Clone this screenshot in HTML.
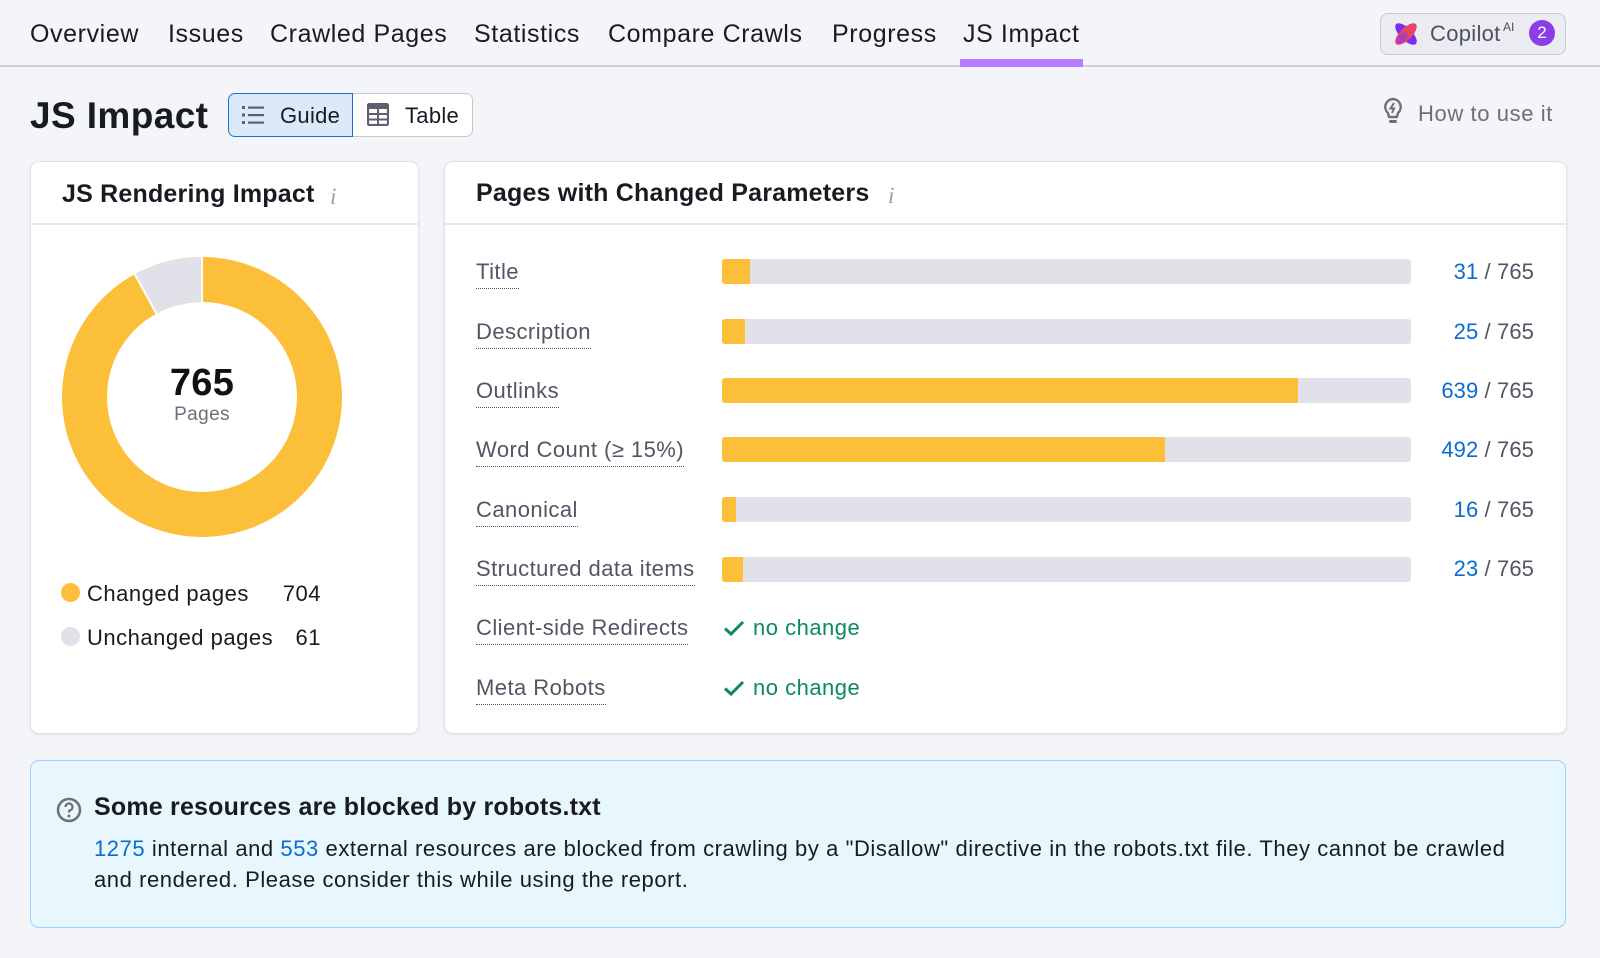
<!DOCTYPE html>
<html><head><meta charset="utf-8">
<style>
*{margin:0;padding:0;box-sizing:border-box}
html,body{width:1600px;height:958px;background:#f4f5f9;overflow:hidden;font-family:"Liberation Sans",Arial,sans-serif;color:#191b23}
.a{position:absolute;white-space:nowrap}
.nav{font-size:25px;line-height:25px;top:22px;letter-spacing:0.6px;color:#191b23}
.card{position:absolute;background:#fff;border:1px solid #e2e3ea;border-radius:9px;box-shadow:0 1px 3px rgba(30,30,60,0.08)}
.hdr{position:absolute;left:0;right:0;top:61px;height:2px;background:#e6e7ed}
.ct{font-size:25px;line-height:25px;font-weight:bold;letter-spacing:0.2px;color:#191b23}
.ii{font-family:"Liberation Serif",serif;font-style:italic;font-size:23px;line-height:23px;color:#9a9ca6}
.lbl{font-size:22px;line-height:22px;letter-spacing:0.45px;color:#525563;border-bottom:1.5px dotted #55586a;padding-bottom:5px}
.bar{position:absolute;left:722px;width:689px;height:25px;background:#e0e1e9;border-radius:3px;overflow:hidden}
.bar i{position:absolute;left:0;top:0;bottom:0;background:#fcbf3a}
.val{font-size:22px;line-height:22px;letter-spacing:0.1px;color:#525563;right:66px}
.val b{font-weight:normal;color:#0a6bd0}
.nc{font-size:22px;line-height:22px;letter-spacing:0.5px;color:#0b8a60}
.leg{font-size:22px;line-height:22px;letter-spacing:0.5px;color:#191b23}
</style></head><body>

<!-- top nav -->
<div class="a nav" style="left:30px">Overview</div>
<div class="a nav" style="left:168px">Issues</div>
<div class="a nav" style="left:270px">Crawled Pages</div>
<div class="a nav" style="left:474px">Statistics</div>
<div class="a nav" style="left:608px">Compare Crawls</div>
<div class="a nav" style="left:832px">Progress</div>
<div class="a nav" style="left:963px">JS Impact</div>
<div class="a" style="left:0;top:65px;width:1600px;height:2px;background:#cdd0d8"></div>
<div class="a" style="left:960px;top:59px;width:123px;height:8px;background:#b47cff"></div>

<!-- copilot -->
<div class="a" style="left:1380px;top:13px;width:186px;height:42px;border:1.5px solid #c6c8d0;border-radius:8px;background:#ebecf1"></div>
<svg class="a" style="left:1390px;top:20px" width="32" height="28" viewBox="0 0 32 28">
  <ellipse cx="16" cy="14" rx="6" ry="14" transform="rotate(-45 16 14)" fill="#7a2cf2"/>
  <ellipse cx="16" cy="14" rx="6" ry="14" transform="rotate(45 16 14)" fill="#e94466"/>
  <ellipse cx="12" cy="18" rx="4" ry="7" transform="rotate(45 12 18)" fill="#a33fc8" opacity="0.8"/>
</svg>
<div class="a" style="left:1430px;top:23px;font-size:22px;line-height:22px;letter-spacing:0.3px;color:#4e5060">Copilot</div>
<div class="a" style="left:1503px;top:21px;font-size:12px;line-height:12px;color:#4e5060">AI</div>
<div class="a" style="left:1529px;top:20px;width:26px;height:26px;border-radius:50%;background:#8a3ee8;color:#fff;font-size:17px;line-height:26px;text-align:center">2</div>

<!-- title row -->
<div class="a" style="left:30px;top:97px;font-size:37px;line-height:37px;font-weight:bold;letter-spacing:0.4px;color:#191b23">JS Impact</div>
<div class="a" style="left:352px;top:93px;width:121px;height:44px;background:#fff;border:1.5px solid #c6c8d0;border-left:none;border-radius:0 7px 7px 0"></div>
<div class="a" style="left:228px;top:93px;width:125px;height:44px;background:#dbe9f9;border:1.5px solid #1f6fd1;border-radius:7px 0 0 7px"></div>
<svg class="a" style="left:242px;top:104px" width="22" height="22" viewBox="0 0 22 22" fill="#5e6070">
  <rect x="0" y="2" width="3" height="3"/><rect x="6" y="2.5" width="16" height="2.2"/>
  <rect x="0" y="9.5" width="3" height="3"/><rect x="6" y="10" width="16" height="2.2"/>
  <rect x="0" y="17" width="3" height="3"/><rect x="6" y="17.5" width="16" height="2.2"/>
</svg>
<div class="a" style="left:280px;top:105px;font-size:22px;line-height:22px;letter-spacing:0.3px;color:#191b23">Guide</div>
<svg class="a" style="left:367px;top:103px" width="22" height="23" viewBox="0 0 22 23">
  <rect x="1" y="1" width="20" height="21" rx="1.5" fill="none" stroke="#5e6070" stroke-width="2.2"/>
  <rect x="1" y="1" width="20" height="5" fill="#5e6070"/>
  <line x1="1" y1="11" x2="21" y2="11" stroke="#5e6070" stroke-width="2"/>
  <line x1="1" y1="16.5" x2="21" y2="16.5" stroke="#5e6070" stroke-width="2"/>
  <line x1="11" y1="6" x2="11" y2="22" stroke="#5e6070" stroke-width="2"/>
</svg>
<div class="a" style="left:405px;top:105px;font-size:22px;line-height:22px;letter-spacing:0.3px;color:#191b23">Table</div>

<!-- how to use -->
<svg class="a" style="left:1383px;top:97px" width="20" height="30" viewBox="0 0 20 30">
  <path d="M10 2 A8 8 0 0 1 15 16 L14 20 L6 20 L5 16 A8 8 0 0 1 10 2 Z" fill="none" stroke="#6c6e79" stroke-width="2.4" stroke-linejoin="round"/>
  <path d="M11 6 L7.5 11.5 L11 11.5 L9 16" fill="none" stroke="#6c6e79" stroke-width="2"/>
  <rect x="6" y="23" width="8" height="3" rx="1.5" fill="#6c6e79"/>
</svg>
<div class="a" style="left:1418px;top:103px;font-size:22px;line-height:22px;letter-spacing:0.6px;color:#6c6e79">How to use it</div>

<!-- left card -->
<div class="card" style="left:30px;top:161px;width:389px;height:573px"><div class="hdr"></div></div>
<div class="a ct" style="left:62px;top:182px">JS Rendering Impact</div>
<div class="a ii" style="left:330px;top:185px">i</div>
<svg class="a" style="left:0;top:0" width="420" height="560">
  <circle cx="202" cy="397" r="117.5" fill="none" stroke="#fcbf3a" stroke-width="45"/>
  <path d="M134.8,274.2 A140,140 0 0 1 202,257 L202,302 A95,95 0 0 0 156.4,313.7 Z" fill="#e0e1e9"/>
  <line x1="202" y1="256" x2="202" y2="303" stroke="#fff" stroke-width="2"/>
  <line x1="134.3" y1="273.3" x2="156.9" y2="314.6" stroke="#fff" stroke-width="2"/>
</svg>
<div class="a" style="left:152px;width:100px;text-align:center;top:364px;font-size:38px;line-height:38px;font-weight:bold;letter-spacing:0.3px;color:#111">765</div>
<div class="a" style="left:152px;width:100px;text-align:center;top:405px;font-size:19px;line-height:19px;letter-spacing:0.4px;color:#6c6e79">Pages</div>
<div class="a" style="left:61px;top:583px;width:19px;height:19px;border-radius:50%;background:#fcbf3a"></div>
<div class="a leg" style="left:87px;top:583px">Changed pages</div>
<div class="a leg" style="left:221px;width:100px;text-align:right;top:583px">704</div>
<div class="a" style="left:61px;top:627px;width:19px;height:19px;border-radius:50%;background:#e0e1e9"></div>
<div class="a leg" style="left:87px;top:627px">Unchanged pages</div>
<div class="a leg" style="left:221px;width:100px;text-align:right;top:627px">61</div>

<!-- right card -->
<div class="card" style="left:444px;top:161px;width:1123px;height:573px"><div class="hdr"></div></div>
<div class="a ct" style="left:476px;top:181px">Pages with Changed Parameters</div>
<div class="a ii" style="left:888px;top:184px">i</div>

<div class="a lbl" style="left:476px;top:261px">Title</div>
<div class="bar" style="top:259px"><i style="width:28px"></i></div>
<div class="a val" style="top:261px"><b>31</b> / 765</div>

<div class="a lbl" style="left:476px;top:321px">Description</div>
<div class="bar" style="top:319px"><i style="width:22.5px"></i></div>
<div class="a val" style="top:321px"><b>25</b> / 765</div>

<div class="a lbl" style="left:476px;top:380px">Outlinks</div>
<div class="bar" style="top:378px"><i style="width:575.5px"></i></div>
<div class="a val" style="top:380px"><b>639</b> / 765</div>

<div class="a lbl" style="left:476px;top:439px">Word Count (≥ 15%)</div>
<div class="bar" style="top:437px"><i style="width:443px"></i></div>
<div class="a val" style="top:439px"><b>492</b> / 765</div>

<div class="a lbl" style="left:476px;top:499px">Canonical</div>
<div class="bar" style="top:497px"><i style="width:14.4px"></i></div>
<div class="a val" style="top:499px"><b>16</b> / 765</div>

<div class="a lbl" style="left:476px;top:558px">Structured data items</div>
<div class="bar" style="top:556.5px"><i style="width:20.7px"></i></div>
<div class="a val" style="top:558px"><b>23</b> / 765</div>

<div class="a lbl" style="left:476px;top:617px">Client-side Redirects</div>
<svg class="a" style="left:723px;top:620px" width="22" height="17" viewBox="0 0 22 17"><path d="M2 8.5 L8 14 L20 2" fill="none" stroke="#0b8a60" stroke-width="3"/></svg>
<div class="a nc" style="left:753px;top:617px">no change</div>

<div class="a lbl" style="left:476px;top:677px">Meta Robots</div>
<svg class="a" style="left:723px;top:680px" width="22" height="17" viewBox="0 0 22 17"><path d="M2 8.5 L8 14 L20 2" fill="none" stroke="#0b8a60" stroke-width="3"/></svg>
<div class="a nc" style="left:753px;top:677px">no change</div>

<!-- info box -->
<div class="a" style="left:30px;top:760px;width:1536px;height:168px;background:#e8f6fe;border:1.5px solid #97d3fd;border-radius:9px"></div>
<svg class="a" style="left:56px;top:797px" width="26" height="26" viewBox="0 0 26 26">
  <circle cx="13" cy="13" r="11" fill="none" stroke="#6c6e79" stroke-width="2.5"/>
  <path d="M9.5 10 A3.5 3.5 0 1 1 14 13.3 Q13 13.8 13 15.5" fill="none" stroke="#6c6e79" stroke-width="2.3"/>
  <circle cx="13" cy="19" r="1.5" fill="#6c6e79"/>
</svg>
<div class="a" style="left:94px;top:795px;font-size:25px;line-height:25px;font-weight:bold;letter-spacing:0.2px;color:#191b23">Some resources are blocked by robots.txt</div>
<div class="a" style="left:94px;top:833px;font-size:22px;line-height:31px;letter-spacing:0.57px;color:#191b23"><span style="color:#0a6bd0">1275</span> internal and <span style="color:#0a6bd0">553</span> external resources are blocked from crawling by a "Disallow" directive in the robots.txt file. They cannot be crawled<br>and rendered. Please consider this while using the report.</div>

</body></html>
